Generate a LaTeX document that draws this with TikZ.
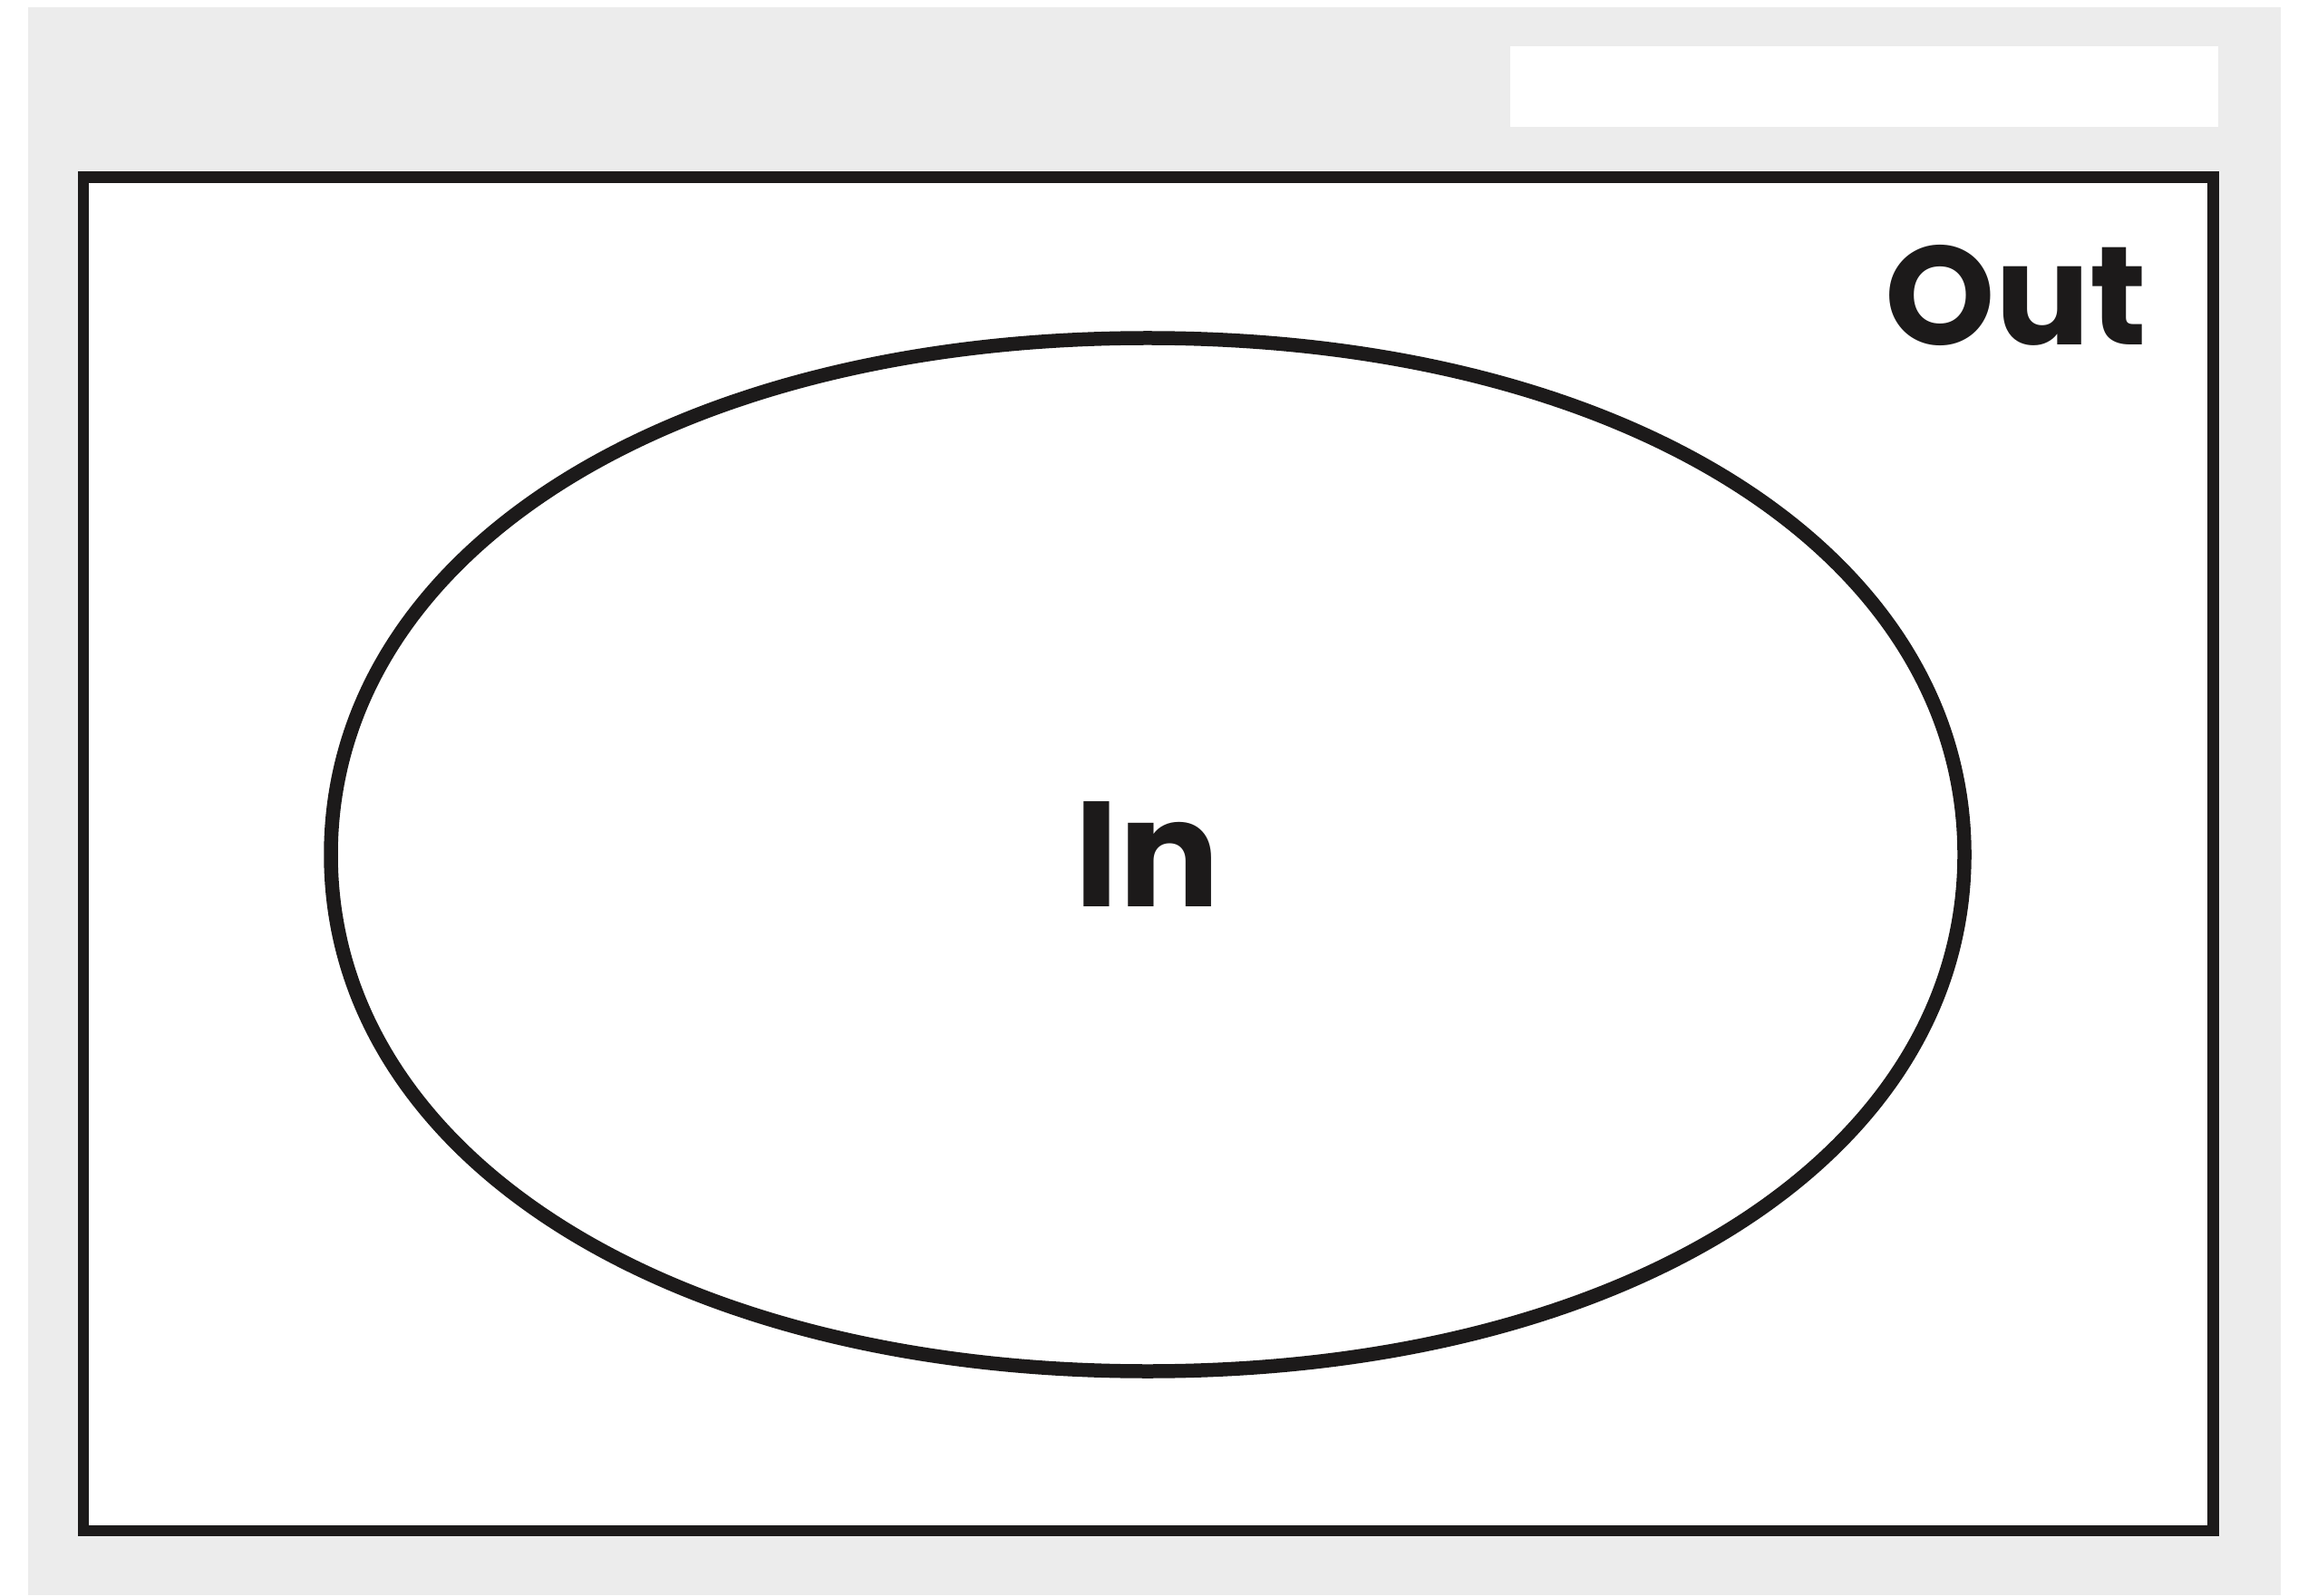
\documentclass[tikz,border=0pt]{standalone}
\usepackage{fontspec}
\setmainfont{Poppins}
\usetikzlibrary{positioning}
\definecolor{inkblack}{RGB}{28, 26, 26}
\definecolor{paneltint}{RGB}{236, 236, 236}

\begin{document}
\begin{tikzpicture}
            \tikzstyle{frame} = [rectangle, draw=inkblack, fill=white, line width=0.125cm, minimum width=23.495cm, minimum height=14.935cm, inner sep=0pt]
            \tikzstyle{region} = [draw=inkblack, line width=0.155cm, line join=round]
            \tikzstyle{setlabel} = [inner sep=0pt, anchor=base, text=inkblack, font=\bfseries]

            \useasboundingbox (0,0) rectangle (25.35,17.6);
            \fill[paneltint] (0.31,0) rectangle (25.16,17.52);
            \fill[white] (16.66,16.20) rectangle (24.47,17.09);

            \node[frame] (universe) at (12.6675,8.1775) {};
            \coordinate (inner) at (12.66,8.17);
            % slightly fuller than a true ellipse
            \draw[region] (21.67,8.17)
                .. controls (21.67,11.499) and (17.922,13.87) .. (12.66,13.87)
                .. controls (7.398,13.87) and (3.65,11.499) .. (3.65,8.17)
                .. controls (3.65,4.841) and (7.398,2.47) .. (12.66,2.47)
                .. controls (17.922,2.47) and (21.67,4.841) .. (21.67,8.17) -- cycle;
            \node[setlabel, font=\fontsize{47}{47}\selectfont\bfseries] (intxt) at ([yshift=-0.577cm]inner) {In};
            \node[setlabel, font=\fontsize{44}{44}\selectfont\bfseries] (outtxt) at (22.24,13.79) {Out};
        \end{tikzpicture}
\end{document}
